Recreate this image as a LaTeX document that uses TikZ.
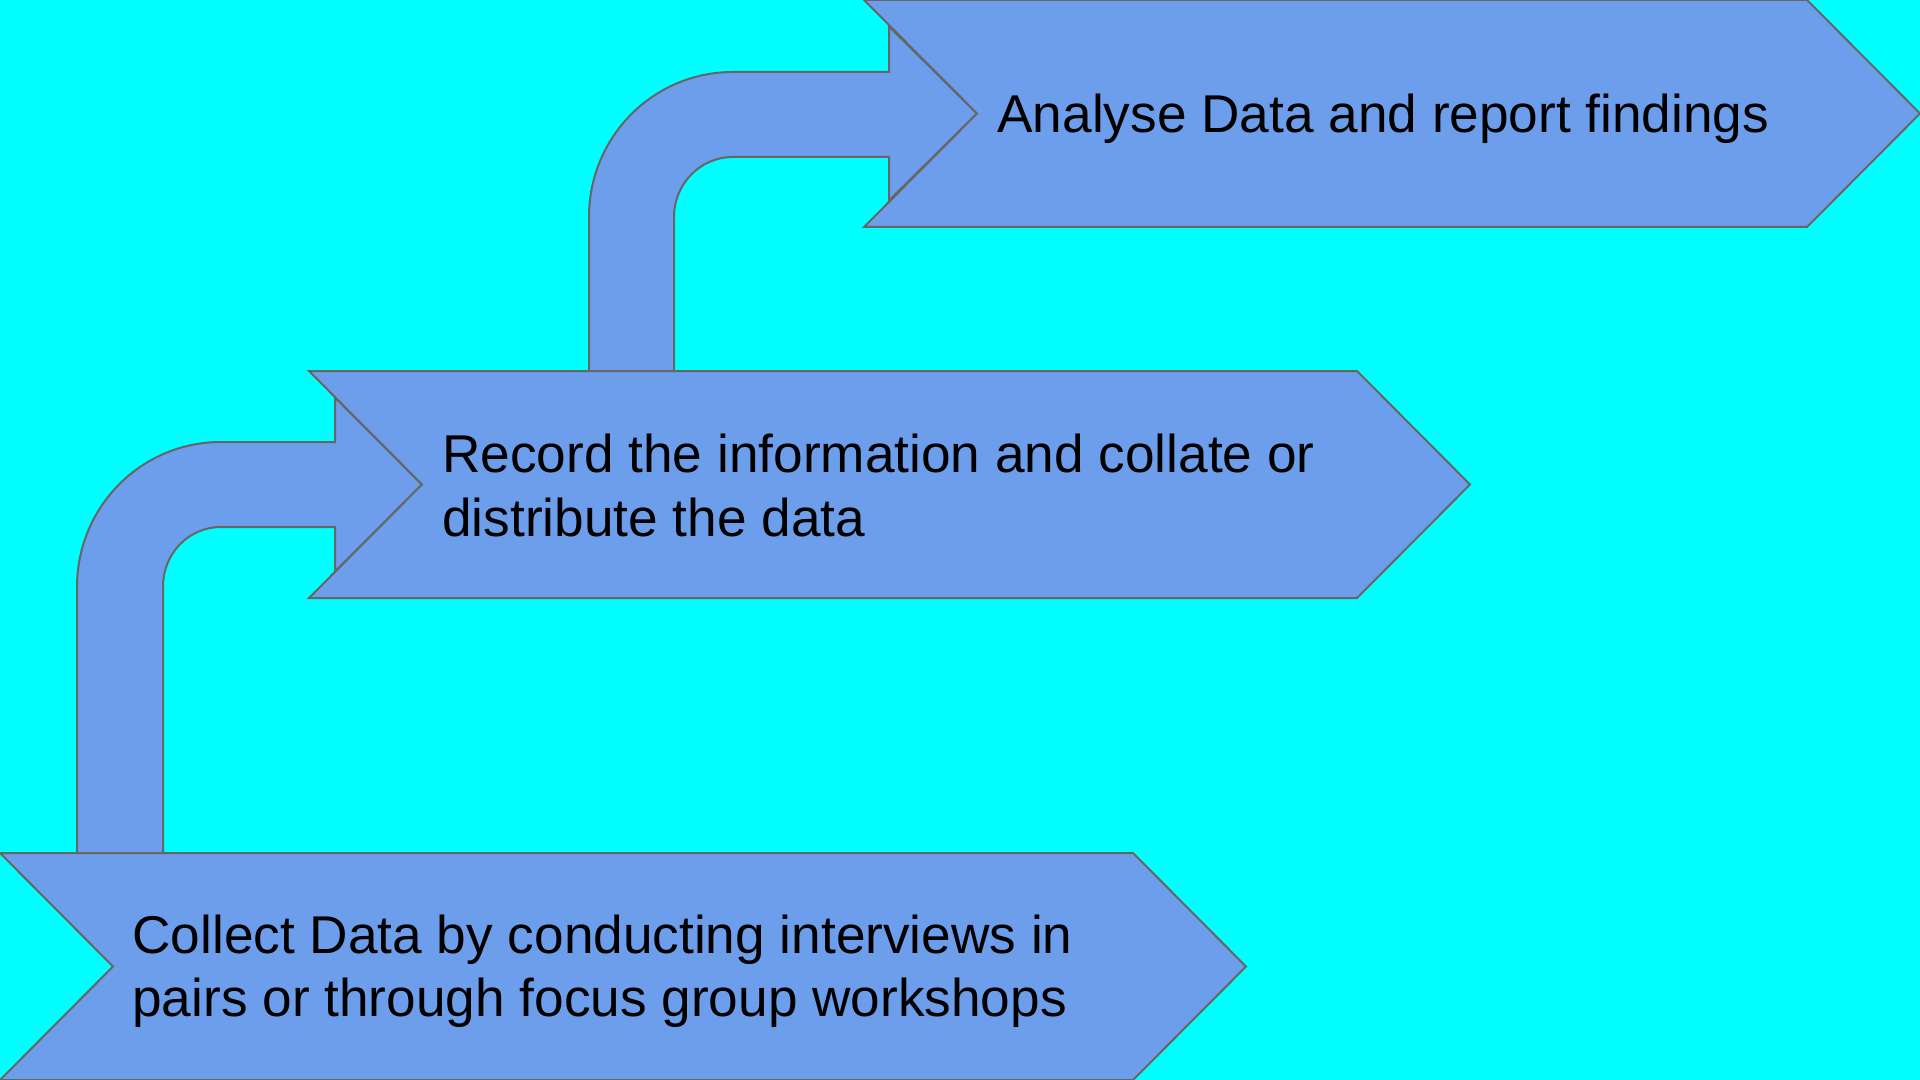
\documentclass[tikz,border=0pt]{standalone}
\usepackage{fontspec}
\setmainfont{Liberation Sans}
\definecolor{bgcyan}{HTML}{00FFFF}
\definecolor{shapefill}{HTML}{6D9EEB}
\definecolor{shapeline}{HTML}{666666}
\tikzset{
  shapestyle/.style={fill=shapefill, draw=shapeline, line width=1pt, line join=miter},
  label/.style={anchor=west, inner sep=0pt, align=left, text=black,
    font=\fontsize{26.6}{31.6}\selectfont}
}
\begin{document}
\begin{tikzpicture}[x=0.5pt, y=-0.5pt]
\useasboundingbox (0,0) rectangle (1920,1080);
\fill[bgcyan] (0,0) rectangle (1920,1080);

% bent arrows
\draw[shapestyle] (77,853) -- (77,587) .. controls (77,507) and (141,442) .. (221,442)
  -- (335,442) -- (335,397.5) -- (422,484.5) -- (335,571.5) -- (335,527) -- (221,527)
  .. controls (189,527) and (163,553) .. (163,587) -- (163,853) -- cycle;
\draw[shapestyle] (589,371) -- (589,217) .. controls (589,137) and (653,72) .. (733,72)
  -- (889,72) -- (889,26.5) -- (977,113.5) -- (889,200.5) -- (889,157) -- (733,157)
  .. controls (700,157) and (674,184) .. (674,217) -- (674,371) -- cycle;

% chevrons
\draw[shapestyle] (0,853) -- (1133,853) -- (1246,966.5) -- (1133,1080) -- (0,1080) -- (113,966.5) -- cycle;
\draw[shapestyle] (309,371) -- (1357,371) -- (1470,484.5) -- (1357,598) -- (309,598) -- (422,484.5) -- cycle;
\draw[shapestyle] (864,0) -- (1807,0) -- (1920,113.5) -- (1807,227) -- (864,227) -- (977,113.5) -- cycle;

% labels
\node[label] (collect) at (132,971) {Collect Data by conducting interviews in\\pairs or through focus group workshops};
\node[label] (record) at (442,485.5) {Record the information and collate or\\distribute the data};
\node[label] (analyse) at (997,119) {Analyse Data and report findings};
\end{tikzpicture}
\end{document}
